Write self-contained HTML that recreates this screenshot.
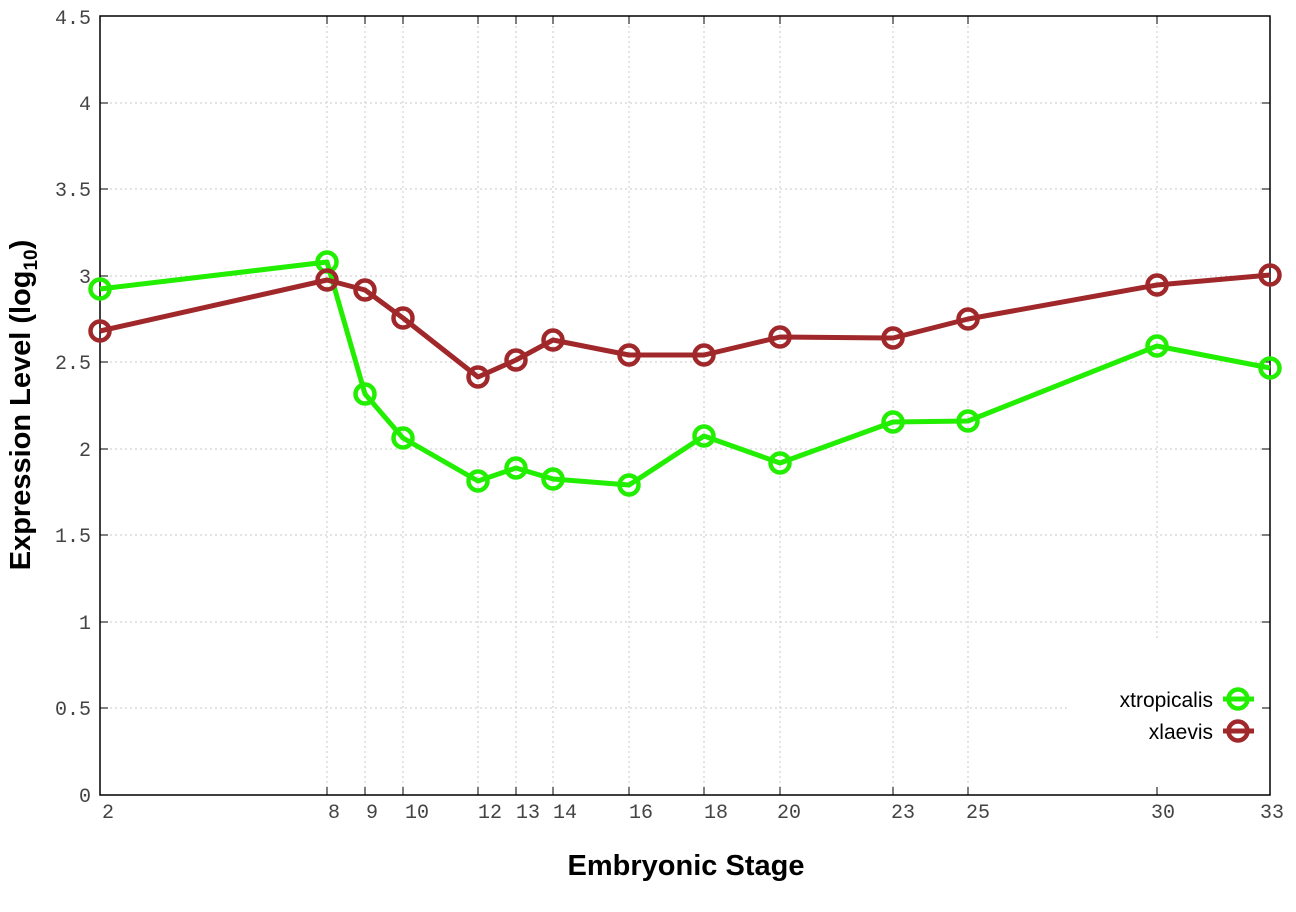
<!DOCTYPE html>
<html><head><style>body{margin:0;background:#fff}</style></head><body>
<svg width="1296" height="907" xmlns="http://www.w3.org/2000/svg" font-family="Liberation Mono, monospace">
<g stroke="#c8c8c8" stroke-dasharray="2,3" stroke-width="1">
<line x1="327" y1="16" x2="327" y2="795"/><line x1="365" y1="16" x2="365" y2="795"/><line x1="403" y1="16" x2="403" y2="795"/><line x1="478" y1="16" x2="478" y2="795"/><line x1="516" y1="16" x2="516" y2="795"/><line x1="553" y1="16" x2="553" y2="795"/><line x1="629" y1="16" x2="629" y2="795"/><line x1="704" y1="16" x2="704" y2="795"/><line x1="780" y1="16" x2="780" y2="795"/><line x1="893" y1="16" x2="893" y2="795"/><line x1="968" y1="16" x2="968" y2="795"/><line x1="1157" y1="16" x2="1157" y2="640"/>
<line x1="100" y1="103" x2="1270" y2="103"/><line x1="100" y1="189" x2="1270" y2="189"/><line x1="100" y1="276" x2="1270" y2="276"/><line x1="100" y1="362" x2="1270" y2="362"/><line x1="100" y1="449" x2="1270" y2="449"/><line x1="100" y1="535" x2="1270" y2="535"/><line x1="100" y1="622" x2="1270" y2="622"/><line x1="100" y1="708" x2="1070" y2="708"/>
</g>
<g stroke="#000" stroke-width="1">
<path d="M327 16v8M365 16v8M403 16v8M478 16v8M516 16v8M553 16v8M629 16v8M704 16v8M780 16v8M893 16v8M968 16v8M1157 16v8M327 795v-8M365 795v-8M403 795v-8M478 795v-8M516 795v-8M553 795v-8M629 795v-8M704 795v-8M780 795v-8M893 795v-8M968 795v-8M1157 795v-8"/>
<path d="M100 103h8M100 189h8M100 276h8M100 362h8M100 449h8M100 535h8M100 622h8M100 708h8M1270 103h-8M1270 189h-8M1270 276h-8M1270 362h-8M1270 449h-8M1270 535h-8M1270 622h-8M1270 708h-8"/>
</g>
<rect x="100" y="16" width="1170" height="779" fill="none" stroke="#000" stroke-width="1.5"/>
<g font-size="20" fill="#444" text-anchor="end">
<text x="91" y="24">4.5</text><text x="91" y="110">4</text><text x="91" y="196">3.5</text><text x="91" y="283">3</text><text x="91" y="369">2.5</text><text x="91" y="456">2</text><text x="91" y="542">1.5</text><text x="91" y="629">1</text><text x="91" y="715">0.5</text><text x="91" y="802">0</text>
</g>
<g font-size="20" fill="#444" text-anchor="middle">
<text x="108" y="818">2</text><text x="334" y="818">8</text><text x="372" y="818">9</text><text x="417" y="818">10</text><text x="490" y="818">12</text><text x="528" y="818">13</text><text x="565" y="818">14</text><text x="641" y="818">16</text><text x="716" y="818">18</text><text x="789" y="818">20</text><text x="903" y="818">23</text><text x="978" y="818">25</text><text x="1163" y="818">30</text><text x="1272" y="818">33</text>
</g>
<text x="686" y="875" font-family="Liberation Sans, sans-serif" font-weight="bold" font-size="29" text-anchor="middle">Embryonic Stage</text>
<text transform="translate(30,405) rotate(-90)" font-family="Liberation Sans, sans-serif" font-weight="bold" font-size="29" text-anchor="middle">Expression Level (log<tspan font-size="19" dy="7">10</tspan><tspan dy="-7">)</tspan></text>
<g fill="none" stroke-width="5" stroke-linejoin="round">
<polyline stroke="#22ee00" points="100,289 327,262 365,394 403,438 478,481 516,468 553,479 629,485 704,436 780,463 893,422 968,421 1157,346 1270,368"/>
<polyline stroke="#a0282a" points="100,331 327,280 365,290 403,318 478,377 516,360 553,340 629,355 704,355 780,337 893,338 968,319 1157,285 1270,275"/>
<g stroke="#22ee00" stroke-width="4.5"><circle cx="100" cy="289" r="9.5"/><circle cx="327" cy="262" r="9.5"/><circle cx="365" cy="394" r="9.5"/><circle cx="403" cy="438" r="9.5"/><circle cx="478" cy="481" r="9.5"/><circle cx="516" cy="468" r="9.5"/><circle cx="553" cy="479" r="9.5"/><circle cx="629" cy="485" r="9.5"/><circle cx="704" cy="436" r="9.5"/><circle cx="780" cy="463" r="9.5"/><circle cx="893" cy="422" r="9.5"/><circle cx="968" cy="421" r="9.5"/><circle cx="1157" cy="346" r="9.5"/><circle cx="1270" cy="368" r="9.5"/></g>
<g stroke="#a0282a" stroke-width="4.5"><circle cx="100" cy="331" r="9.5"/><circle cx="327" cy="280" r="9.5"/><circle cx="365" cy="290" r="9.5"/><circle cx="403" cy="318" r="9.5"/><circle cx="478" cy="377" r="9.5"/><circle cx="516" cy="360" r="9.5"/><circle cx="553" cy="340" r="9.5"/><circle cx="629" cy="355" r="9.5"/><circle cx="704" cy="355" r="9.5"/><circle cx="780" cy="337" r="9.5"/><circle cx="893" cy="338" r="9.5"/><circle cx="968" cy="319" r="9.5"/><circle cx="1157" cy="285" r="9.5"/><circle cx="1270" cy="275" r="9.5"/></g>
<line x1="1223" y1="699" x2="1254" y2="699" stroke="#22ee00"/><circle cx="1238" cy="699" r="9.5" stroke="#22ee00" stroke-width="4.5"/>
<line x1="1223" y1="731" x2="1254" y2="731" stroke="#a0282a"/><circle cx="1238" cy="731" r="9.5" stroke="#a0282a" stroke-width="4.5"/>
</g>
<g font-family="Liberation Sans, sans-serif" font-size="21" text-anchor="end" fill="#000">
<text x="1213" y="707">xtropicalis</text><text x="1213" y="739">xlaevis</text>
</g>
</svg>
</body></html>
